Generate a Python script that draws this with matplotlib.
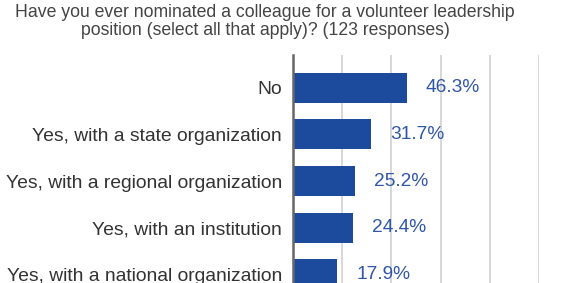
import matplotlib
matplotlib.use("Agg")
import matplotlib.pyplot as plt

categories = ["No", "Yes, with a state organization", "Yes, with a regional organization",
              "Yes, with an institution", "Yes, with a national organization"]
values = [46.3, 31.7, 25.2, 24.4, 17.9]
value_labels = ["46.3%", "31.7%", "25.2%", "24.4%", "17.9%"]
xticks = [0, 20, 40, 60, 80, 100]

plt.rcParams['font.family'] = ['Liberation Sans', 'DejaVu Sans']

W, H = 566, 283
fig = plt.figure(figsize=(W/100, H/100), dpi=100)
ax = fig.add_axes([293/W, 1 - 307/H, (539-293)/W, (307-55)/H])

ypos = list(range(len(categories)))
ax.barh(ypos, values, height=0.64, color="#1c4a9c", zorder=3)
ax.set_ylim(4.7, -0.7)
ax.set_xlim(0, 100)
ax.set_xticks(xticks)
ax.xaxis.set_ticks_position('none')
ax.set_xticklabels([])
ax.grid(axis='x', color='#d4d4d4', linewidth=1.3, zorder=0)
for s in ['top', 'right', 'bottom']:
    ax.spines[s].set_visible(False)
ax.spines['left'].set_color('#666666')
ax.spines['left'].set_linewidth(1.8)
ax.spines['left'].set_zorder(4)
ax.set_yticks(ypos)
ax.set_yticklabels(categories, fontsize=13.9, color='#333333')
ax.tick_params(axis='y', length=0, pad=8)

for y, v, lab in zip(ypos, values, value_labels):
    ax.annotate(lab, xy=(v, y), xytext=(19, 0), textcoords='offset pixels',
                ha='left', va='center', fontsize=13.8, color='#2f56a8')

fig.text(265/W, 1 - 4/H, "Have you ever nominated a colleague for a volunteer leadership\nposition (select all that apply)? (123 responses)",
         ha='center', va='top', fontsize=12.7, color='#444444', linespacing=1.08)

fig.savefig("out.png", dpi=100)
